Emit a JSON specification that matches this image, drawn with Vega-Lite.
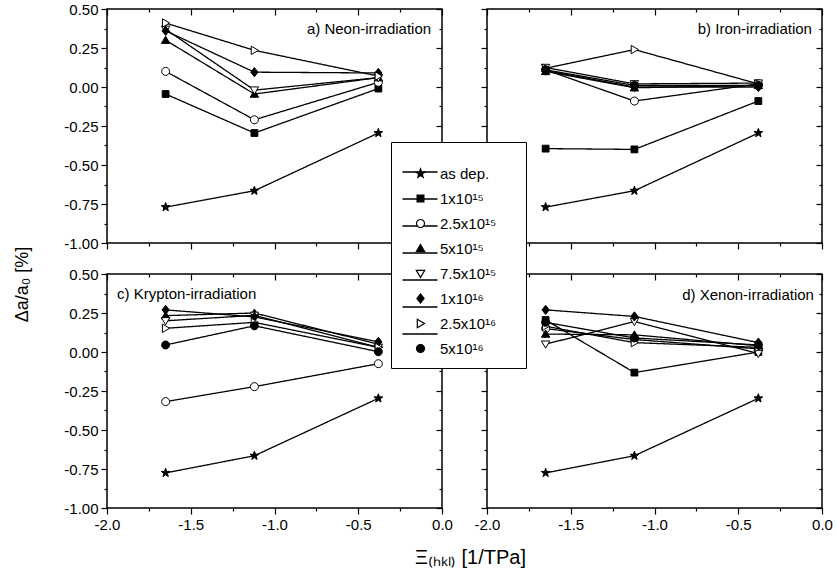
{
  "$schema": "https://vega.github.io/schema/vega-lite/v6.json",
  "padding": {"left": 14, "top": 1, "right": 5, "bottom": 5},
  "background": "white",
  "config": {
    "font": "Liberation Sans",
    "view": {"stroke": "black", "strokeWidth": 1.5},
    "axis": {"grid": false, "domain": false, "tickColor": "black", "tickWidth": 1.2, "labelColor": "black", "labelFontSize": 15, "labelFont": "Liberation Sans", "labelPadding": 3, "labelFlush": false, "labelOverlap": false},
    "legend": {"orient": "none", "labelFontSize": 15, "labelFont": "Liberation Sans", "labelColor": "black", "rowPadding": 9, "cornerRadius": 0, "padding": 22}
  },
  "data": {"values": [
    {"panel": "a", "series": "as dep.", "x": -1.65, "y": -0.77},
    {"panel": "a", "series": "as dep.", "x": -1.12, "y": -0.665},
    {"panel": "a", "series": "as dep.", "x": -0.38, "y": -0.295},
    {"panel": "a", "series": "1x10¹⁵", "x": -1.65, "y": -0.045},
    {"panel": "a", "series": "1x10¹⁵", "x": -1.12, "y": -0.295},
    {"panel": "a", "series": "1x10¹⁵", "x": -0.38, "y": -0.01},
    {"panel": "a", "series": "2.5x10¹⁵", "x": -1.65, "y": 0.10},
    {"panel": "a", "series": "2.5x10¹⁵", "x": -1.12, "y": -0.21},
    {"panel": "a", "series": "2.5x10¹⁵", "x": -0.38, "y": 0.03},
    {"panel": "a", "series": "5x10¹⁵", "x": -1.65, "y": 0.30},
    {"panel": "a", "series": "5x10¹⁵", "x": -1.12, "y": -0.045},
    {"panel": "a", "series": "5x10¹⁵", "x": -0.38, "y": 0.06},
    {"panel": "a", "series": "7.5x10¹⁵", "x": -1.65, "y": 0.37},
    {"panel": "a", "series": "7.5x10¹⁵", "x": -1.12, "y": -0.02},
    {"panel": "a", "series": "7.5x10¹⁵", "x": -0.38, "y": 0.06},
    {"panel": "a", "series": "1x10¹⁶", "x": -1.65, "y": 0.36},
    {"panel": "a", "series": "1x10¹⁶", "x": -1.12, "y": 0.095},
    {"panel": "a", "series": "1x10¹⁶", "x": -0.38, "y": 0.09},
    {"panel": "a", "series": "2.5x10¹⁶", "x": -1.65, "y": 0.41},
    {"panel": "a", "series": "2.5x10¹⁶", "x": -1.12, "y": 0.235},
    {"panel": "a", "series": "2.5x10¹⁶", "x": -0.38, "y": 0.07},

    {"panel": "b", "series": "as dep.", "x": -1.65, "y": -0.77},
    {"panel": "b", "series": "as dep.", "x": -1.12, "y": -0.665},
    {"panel": "b", "series": "as dep.", "x": -0.38, "y": -0.295},
    {"panel": "b", "series": "1x10¹⁵", "x": -1.65, "y": -0.395},
    {"panel": "b", "series": "1x10¹⁵", "x": -1.12, "y": -0.40},
    {"panel": "b", "series": "1x10¹⁵", "x": -0.38, "y": -0.09},
    {"panel": "b", "series": "2.5x10¹⁵", "x": -1.65, "y": 0.11},
    {"panel": "b", "series": "2.5x10¹⁵", "x": -1.12, "y": -0.09},
    {"panel": "b", "series": "2.5x10¹⁵", "x": -0.38, "y": 0.02},
    {"panel": "b", "series": "5x10¹⁵", "x": -1.65, "y": 0.10},
    {"panel": "b", "series": "5x10¹⁵", "x": -1.12, "y": -0.005},
    {"panel": "b", "series": "5x10¹⁵", "x": -0.38, "y": 0.01},
    {"panel": "b", "series": "7.5x10¹⁵", "x": -1.65, "y": 0.125},
    {"panel": "b", "series": "7.5x10¹⁵", "x": -1.12, "y": 0.02},
    {"panel": "b", "series": "7.5x10¹⁵", "x": -0.38, "y": 0.025},
    {"panel": "b", "series": "1x10¹⁶", "x": -1.65, "y": 0.105},
    {"panel": "b", "series": "1x10¹⁶", "x": -1.12, "y": 0.0},
    {"panel": "b", "series": "1x10¹⁶", "x": -0.38, "y": 0.0},
    {"panel": "b", "series": "2.5x10¹⁶", "x": -1.65, "y": 0.12},
    {"panel": "b", "series": "2.5x10¹⁶", "x": -1.12, "y": 0.24},
    {"panel": "b", "series": "2.5x10¹⁶", "x": -0.38, "y": 0.02},
    {"panel": "b", "series": "5x10¹⁶", "x": -1.65, "y": 0.11},
    {"panel": "b", "series": "5x10¹⁶", "x": -1.12, "y": 0.01},
    {"panel": "b", "series": "5x10¹⁶", "x": -0.38, "y": 0.01},

    {"panel": "c", "series": "as dep.", "x": -1.65, "y": -0.775},
    {"panel": "c", "series": "as dep.", "x": -1.12, "y": -0.665},
    {"panel": "c", "series": "as dep.", "x": -0.38, "y": -0.297},
    {"panel": "c", "series": "2.5x10¹⁵", "x": -1.65, "y": -0.318},
    {"panel": "c", "series": "2.5x10¹⁵", "x": -1.12, "y": -0.222},
    {"panel": "c", "series": "2.5x10¹⁵", "x": -0.38, "y": -0.075},
    {"panel": "c", "series": "5x10¹⁵", "x": -1.65, "y": 0.233},
    {"panel": "c", "series": "5x10¹⁵", "x": -1.12, "y": 0.25},
    {"panel": "c", "series": "5x10¹⁵", "x": -0.38, "y": 0.05},
    {"panel": "c", "series": "7.5x10¹⁵", "x": -1.65, "y": 0.20},
    {"panel": "c", "series": "7.5x10¹⁵", "x": -1.12, "y": 0.235},
    {"panel": "c", "series": "7.5x10¹⁵", "x": -0.38, "y": 0.03},
    {"panel": "c", "series": "1x10¹⁶", "x": -1.65, "y": 0.27},
    {"panel": "c", "series": "1x10¹⁶", "x": -1.12, "y": 0.225},
    {"panel": "c", "series": "1x10¹⁶", "x": -0.38, "y": 0.065},
    {"panel": "c", "series": "2.5x10¹⁶", "x": -1.65, "y": 0.152},
    {"panel": "c", "series": "2.5x10¹⁶", "x": -1.12, "y": 0.19},
    {"panel": "c", "series": "2.5x10¹⁶", "x": -0.38, "y": 0.03},
    {"panel": "c", "series": "5x10¹⁶", "x": -1.65, "y": 0.045},
    {"panel": "c", "series": "5x10¹⁶", "x": -1.12, "y": 0.168},
    {"panel": "c", "series": "5x10¹⁶", "x": -0.38, "y": 0.002},

    {"panel": "d", "series": "as dep.", "x": -1.65, "y": -0.775},
    {"panel": "d", "series": "as dep.", "x": -1.12, "y": -0.665},
    {"panel": "d", "series": "as dep.", "x": -0.38, "y": -0.297},
    {"panel": "d", "series": "1x10¹⁵", "x": -1.65, "y": 0.205},
    {"panel": "d", "series": "1x10¹⁵", "x": -1.12, "y": -0.132},
    {"panel": "d", "series": "1x10¹⁵", "x": -0.38, "y": 0.0},
    {"panel": "d", "series": "2.5x10¹⁵", "x": -1.65, "y": 0.15},
    {"panel": "d", "series": "2.5x10¹⁵", "x": -1.12, "y": 0.08},
    {"panel": "d", "series": "2.5x10¹⁵", "x": -0.38, "y": 0.02},
    {"panel": "d", "series": "5x10¹⁵", "x": -1.65, "y": 0.115},
    {"panel": "d", "series": "5x10¹⁵", "x": -1.12, "y": 0.11},
    {"panel": "d", "series": "5x10¹⁵", "x": -0.38, "y": 0.04},
    {"panel": "d", "series": "7.5x10¹⁵", "x": -1.65, "y": 0.05},
    {"panel": "d", "series": "7.5x10¹⁵", "x": -1.12, "y": 0.195},
    {"panel": "d", "series": "7.5x10¹⁵", "x": -0.38, "y": -0.01},
    {"panel": "d", "series": "1x10¹⁶", "x": -1.65, "y": 0.27},
    {"panel": "d", "series": "1x10¹⁶", "x": -1.12, "y": 0.228},
    {"panel": "d", "series": "1x10¹⁶", "x": -0.38, "y": 0.06},
    {"panel": "d", "series": "2.5x10¹⁶", "x": -1.65, "y": 0.165},
    {"panel": "d", "series": "2.5x10¹⁶", "x": -1.12, "y": 0.06},
    {"panel": "d", "series": "2.5x10¹⁶", "x": -0.38, "y": 0.03},
    {"panel": "d", "series": "5x10¹⁶", "x": -1.65, "y": 0.19},
    {"panel": "d", "series": "5x10¹⁶", "x": -1.12, "y": 0.09},
    {"panel": "d", "series": "5x10¹⁶", "x": -0.38, "y": 0.045}
  ]},
  "title": {"text": "Δa/a₀ [%]", "orient": "left", "anchor": "middle", "fontSize": 18, "font": "Liberation Sans", "fontWeight": "normal", "offset": 31, "color": "black"},
  "bounds": "flush",
  "columns": 2,
  "spacing": {"row": 31, "column": 45},
  "concat": [
    {
      "width": 335, "height": 234,
      "layer": [
        {"transform": [{"filter": "datum.panel == 'a'"}],
         "mark": {"type": "line", "color": "black", "strokeWidth": 1.3},
         "encoding": {
           "x": {"field": "x", "type": "quantitative", "scale": {"domain": [-2, 0], "nice": false, "zero": false}, "axis": {"orient": "bottom", "values": [-2, -1.75, -1.5, -1.25, -1, -0.75, -0.5, -0.25, 0], "labels": false, "tickSize": {"condition": {"test": "abs(datum.value*2-round(datum.value*2))<0.01", "value": 6}, "value": 3}, "title": null}},
           "y": {"field": "y", "type": "quantitative", "scale": {"domain": [-1, 0.5], "nice": false, "zero": false}, "axis": {"orient": "left", "values": [-1, -0.875, -0.75, -0.625, -0.5, -0.375, -0.25, -0.125, 0, 0.125, 0.25, 0.375, 0.5], "labelExpr": "abs(datum.value*4-round(datum.value*4))<0.01 ? replace(format(datum.value,'.2f'),'\u2212','-') : ''", "tickSize": {"condition": {"test": "abs(datum.value*4-round(datum.value*4))<0.01", "value": 6}, "value": 3}, "title": null}},
           "strokeDash": {"field": "series", "type": "nominal", "scale": {"domain": ["5x10¹⁶", "2.5x10¹⁶", "1x10¹⁶", "7.5x10¹⁵", "5x10¹⁵", "2.5x10¹⁵", "1x10¹⁵", "as dep."], "range": [[1, 0], [1, 0], [1, 0], [1, 0], [1, 0], [1, 0], [1, 0], [1, 0]]}, "legend": {"title": " ", "titleOrient": "bottom", "titleFontSize": 12, "titlePadding": 3, "values": ["5x10¹⁶", "2.5x10¹⁶", "1x10¹⁶", "7.5x10¹⁵", "5x10¹⁵", "2.5x10¹⁵", "1x10¹⁵"], "labelExpr": "' '", "legendX": 284, "legendY": 133, "padding": 11.5, "symbolType": "stroke", "symbolSize": 1225, "symbolStrokeWidth": 1.3, "symbolStrokeColor": "black", "symbolOffset": -1, "labelOffset": 76, "rowPadding": -1.7, "labelColor": "transparent", "strokeColor": "black", "fillColor": "white", "zindex": 1}}
         }},
        {"transform": [{"filter": "datum.panel == 'a'"}],
         "mark": {"type": "point", "filled": true, "stroke": "black", "strokeWidth": 1, "opacity": 1, "size": 64},
         "encoding": {
           "x": {"field": "x", "type": "quantitative", "axis": {"orient": "top", "values": [-2, -1.75, -1.5, -1.25, -1, -0.75, -0.5, -0.25, 0], "labels": false, "tickSize": {"condition": {"test": "abs(datum.value*2-round(datum.value*2))<0.01", "value": -6}, "value": -3}, "title": null}},
           "y": {"field": "y", "type": "quantitative", "axis": {"orient": "right", "values": [-1, -0.875, -0.75, -0.625, -0.5, -0.375, -0.25, -0.125, 0, 0.125, 0.25, 0.375, 0.5], "labels": false, "tickSize": {"condition": {"test": "abs(datum.value*4-round(datum.value*4))<0.01", "value": -6}, "value": -3}, "title": null}},
           "shape": {"field": "series", "type": "nominal", "scale": {"domain": ["as dep.", "1x10¹⁵", "2.5x10¹⁵", "5x10¹⁵", "7.5x10¹⁵", "1x10¹⁶", "2.5x10¹⁶", "5x10¹⁶"], "range": ["M0,-1.15L0.276,-0.38L1.094,-0.355L0.447,0.145L0.676,0.93L0,0.47L-0.676,0.93L-0.447,0.145L-1.094,-0.355L-0.276,-0.38Z", "M-0.85,-0.85H0.85V0.85H-0.85Z", "M1,0A1,1,0,1,1,-1,0A1,1,0,1,1,1,0Z", "M0,-1L1.05,0.8H-1.05Z", "M0,1L1.05,-0.8H-1.05Z", "M0,-1.15L0.9,0L0,1.15L-0.9,0Z", "M1,0L-0.8,-1.05V1.05Z", "M1,0A1,1,0,1,1,-1,0A1,1,0,1,1,1,0Z"]}, "legend": {"title": null, "legendX": 284, "legendY": 135, "symbolSize": 64, "symbolStrokeWidth": 1.2, "symbolOffset": 0, "labelOffset": 12, "zindex": 2}},
           "fill": {"field": "series", "type": "nominal", "scale": {"domain": ["as dep.", "1x10¹⁵", "2.5x10¹⁵", "5x10¹⁵", "7.5x10¹⁵", "1x10¹⁶", "2.5x10¹⁶", "5x10¹⁶"], "range": ["black", "black", "white", "black", "white", "black", "white", "black"]}, "legend": {"title": null, "legendX": 284, "legendY": 135, "symbolSize": 64, "symbolStrokeWidth": 1.2, "symbolOffset": 0, "labelOffset": 12, "zindex": 2}}
         }},
        {"data": {"values": [{"label": "a) Neon-irradiation"}]},
         "mark": {"type": "text", "align": "right", "baseline": "middle", "fontSize": 15, "font": "Liberation Sans", "color": "black"},
         "encoding": {
           "x": {"datum": -0.065, "type": "quantitative", "axis": null},
           "y": {"datum": 0.37, "type": "quantitative", "axis": null},
           "text": {"field": "label"}
         }}
      ],
      "resolve": {"axis": {"x": "independent", "y": "independent"}}
    },
    {
      "width": 335, "height": 234,
      "layer": [
        {"transform": [{"filter": "datum.panel == 'b'"}],
         "mark": {"type": "line", "color": "black", "strokeWidth": 1.3},
         "encoding": {
           "x": {"field": "x", "type": "quantitative", "scale": {"domain": [-2, 0], "nice": false, "zero": false}, "axis": {"orient": "bottom", "values": [-2, -1.75, -1.5, -1.25, -1, -0.75, -0.5, -0.25, 0], "labels": false, "tickSize": {"condition": {"test": "abs(datum.value*2-round(datum.value*2))<0.01", "value": 6}, "value": 3}, "title": null}},
           "y": {"field": "y", "type": "quantitative", "scale": {"domain": [-1, 0.5], "nice": false, "zero": false}, "axis": {"orient": "left", "values": [-1, -0.875, -0.75, -0.625, -0.5, -0.375, -0.25, -0.125, 0, 0.125, 0.25, 0.375, 0.5], "labels": false, "tickSize": {"condition": {"test": "abs(datum.value*4-round(datum.value*4))<0.01", "value": 6}, "value": 3}, "title": null}},
           "strokeDash": {"field": "series", "type": "nominal", "scale": {"domain": ["5x10¹⁶", "2.5x10¹⁶", "1x10¹⁶", "7.5x10¹⁵", "5x10¹⁵", "2.5x10¹⁵", "1x10¹⁵", "as dep."], "range": [[1, 0], [1, 0], [1, 0], [1, 0], [1, 0], [1, 0], [1, 0], [1, 0]]}, "legend": {"title": " ", "titleOrient": "bottom", "titleFontSize": 12, "titlePadding": 3, "values": ["5x10¹⁶", "2.5x10¹⁶", "1x10¹⁶", "7.5x10¹⁵", "5x10¹⁵", "2.5x10¹⁵", "1x10¹⁵"], "labelExpr": "' '", "legendX": 284, "legendY": 133, "padding": 11.5, "symbolType": "stroke", "symbolSize": 1225, "symbolStrokeWidth": 1.3, "symbolStrokeColor": "black", "symbolOffset": -1, "labelOffset": 76, "rowPadding": -1.7, "labelColor": "transparent", "strokeColor": "black", "fillColor": "white", "zindex": 1}}
         }},
        {"transform": [{"filter": "datum.panel == 'b'"}],
         "mark": {"type": "point", "filled": true, "stroke": "black", "strokeWidth": 1, "opacity": 1, "size": 64},
         "encoding": {
           "x": {"field": "x", "type": "quantitative", "axis": {"orient": "top", "values": [-2, -1.75, -1.5, -1.25, -1, -0.75, -0.5, -0.25, 0], "labels": false, "tickSize": {"condition": {"test": "abs(datum.value*2-round(datum.value*2))<0.01", "value": -6}, "value": -3}, "title": null}},
           "y": {"field": "y", "type": "quantitative", "axis": {"orient": "right", "values": [-1, -0.875, -0.75, -0.625, -0.5, -0.375, -0.25, -0.125, 0, 0.125, 0.25, 0.375, 0.5], "labels": false, "tickSize": {"condition": {"test": "abs(datum.value*4-round(datum.value*4))<0.01", "value": -6}, "value": -3}, "title": null}},
           "shape": {"field": "series", "type": "nominal", "scale": {"domain": ["as dep.", "1x10¹⁵", "2.5x10¹⁵", "5x10¹⁵", "7.5x10¹⁵", "1x10¹⁶", "2.5x10¹⁶", "5x10¹⁶"], "range": ["M0,-1.15L0.276,-0.38L1.094,-0.355L0.447,0.145L0.676,0.93L0,0.47L-0.676,0.93L-0.447,0.145L-1.094,-0.355L-0.276,-0.38Z", "M-0.85,-0.85H0.85V0.85H-0.85Z", "M1,0A1,1,0,1,1,-1,0A1,1,0,1,1,1,0Z", "M0,-1L1.05,0.8H-1.05Z", "M0,1L1.05,-0.8H-1.05Z", "M0,-1.15L0.9,0L0,1.15L-0.9,0Z", "M1,0L-0.8,-1.05V1.05Z", "M1,0A1,1,0,1,1,-1,0A1,1,0,1,1,1,0Z"]}, "legend": {"title": null, "legendX": 284, "legendY": 135, "symbolSize": 64, "symbolStrokeWidth": 1.2, "symbolOffset": 0, "labelOffset": 12, "zindex": 2}},
           "fill": {"field": "series", "type": "nominal", "scale": {"domain": ["as dep.", "1x10¹⁵", "2.5x10¹⁵", "5x10¹⁵", "7.5x10¹⁵", "1x10¹⁶", "2.5x10¹⁶", "5x10¹⁶"], "range": ["black", "black", "white", "black", "white", "black", "white", "black"]}, "legend": {"title": null, "legendX": 284, "legendY": 135, "symbolSize": 64, "symbolStrokeWidth": 1.2, "symbolOffset": 0, "labelOffset": 12, "zindex": 2}}
         }},
        {"data": {"values": [{"label": "b) Iron-irradiation"}]},
         "mark": {"type": "text", "align": "right", "baseline": "middle", "fontSize": 15, "font": "Liberation Sans", "color": "black"},
         "encoding": {
           "x": {"datum": -0.06, "type": "quantitative", "axis": null},
           "y": {"datum": 0.37, "type": "quantitative", "axis": null},
           "text": {"field": "label"}
         }}
      ],
      "resolve": {"axis": {"x": "independent", "y": "independent"}}
    },
    {
      "width": 335, "height": 234,
      "layer": [
        {"transform": [{"filter": "datum.panel == 'c'"}],
         "mark": {"type": "line", "color": "black", "strokeWidth": 1.3},
         "encoding": {
           "x": {"field": "x", "type": "quantitative", "scale": {"domain": [-2, 0], "nice": false, "zero": false}, "axis": {"orient": "bottom", "values": [-2, -1.75, -1.5, -1.25, -1, -0.75, -0.5, -0.25, 0], "labelExpr": "abs(datum.value*2-round(datum.value*2))<0.01 ? replace(format(datum.value,'.1f'),'\u2212','-') : ''", "tickSize": {"condition": {"test": "abs(datum.value*2-round(datum.value*2))<0.01", "value": 6}, "value": 3}, "title": "Ξ₍ₕₖₗ₎ [1/TPa]", "titleX": 363, "titleY": 39, "titleBaseline": "top", "titleAlign": "center", "titleFontSize": 20, "titleFontWeight": "normal", "titleColor": "black", "titleFont": "Liberation Sans"}},
           "y": {"field": "y", "type": "quantitative", "scale": {"domain": [-1, 0.5], "nice": false, "zero": false}, "axis": {"orient": "left", "values": [-1, -0.875, -0.75, -0.625, -0.5, -0.375, -0.25, -0.125, 0, 0.125, 0.25, 0.375, 0.5], "labelExpr": "abs(datum.value*4-round(datum.value*4))<0.01 ? replace(format(datum.value,'.2f'),'\u2212','-') : ''", "tickSize": {"condition": {"test": "abs(datum.value*4-round(datum.value*4))<0.01", "value": 6}, "value": 3}, "title": null}},
           "strokeDash": {"field": "series", "type": "nominal", "scale": {"domain": ["5x10¹⁶", "2.5x10¹⁶", "1x10¹⁶", "7.5x10¹⁵", "5x10¹⁵", "2.5x10¹⁵", "1x10¹⁵", "as dep."], "range": [[1, 0], [1, 0], [1, 0], [1, 0], [1, 0], [1, 0], [1, 0], [1, 0]]}, "legend": {"title": " ", "titleOrient": "bottom", "titleFontSize": 12, "titlePadding": 3, "values": ["5x10¹⁶", "2.5x10¹⁶", "1x10¹⁶", "7.5x10¹⁵", "5x10¹⁵", "2.5x10¹⁵", "1x10¹⁵"], "labelExpr": "' '", "legendX": 284, "legendY": 133, "padding": 11.5, "symbolType": "stroke", "symbolSize": 1225, "symbolStrokeWidth": 1.3, "symbolStrokeColor": "black", "symbolOffset": -1, "labelOffset": 76, "rowPadding": -1.7, "labelColor": "transparent", "strokeColor": "black", "fillColor": "white", "zindex": 1}}
         }},
        {"transform": [{"filter": "datum.panel == 'c'"}],
         "mark": {"type": "point", "filled": true, "stroke": "black", "strokeWidth": 1, "opacity": 1, "size": 64},
         "encoding": {
           "x": {"field": "x", "type": "quantitative", "axis": {"orient": "top", "values": [-2, -1.75, -1.5, -1.25, -1, -0.75, -0.5, -0.25, 0], "labels": false, "tickSize": {"condition": {"test": "abs(datum.value*2-round(datum.value*2))<0.01", "value": -6}, "value": -3}, "title": null}},
           "y": {"field": "y", "type": "quantitative", "axis": {"orient": "right", "values": [-1, -0.875, -0.75, -0.625, -0.5, -0.375, -0.25, -0.125, 0, 0.125, 0.25, 0.375, 0.5], "labels": false, "tickSize": {"condition": {"test": "abs(datum.value*4-round(datum.value*4))<0.01", "value": -6}, "value": -3}, "title": null}},
           "shape": {"field": "series", "type": "nominal", "scale": {"domain": ["as dep.", "1x10¹⁵", "2.5x10¹⁵", "5x10¹⁵", "7.5x10¹⁵", "1x10¹⁶", "2.5x10¹⁶", "5x10¹⁶"], "range": ["M0,-1.15L0.276,-0.38L1.094,-0.355L0.447,0.145L0.676,0.93L0,0.47L-0.676,0.93L-0.447,0.145L-1.094,-0.355L-0.276,-0.38Z", "M-0.85,-0.85H0.85V0.85H-0.85Z", "M1,0A1,1,0,1,1,-1,0A1,1,0,1,1,1,0Z", "M0,-1L1.05,0.8H-1.05Z", "M0,1L1.05,-0.8H-1.05Z", "M0,-1.15L0.9,0L0,1.15L-0.9,0Z", "M1,0L-0.8,-1.05V1.05Z", "M1,0A1,1,0,1,1,-1,0A1,1,0,1,1,1,0Z"]}, "legend": {"title": null, "legendX": 284, "legendY": 135, "symbolSize": 64, "symbolStrokeWidth": 1.2, "symbolOffset": 0, "labelOffset": 12, "zindex": 2}},
           "fill": {"field": "series", "type": "nominal", "scale": {"domain": ["as dep.", "1x10¹⁵", "2.5x10¹⁵", "5x10¹⁵", "7.5x10¹⁵", "1x10¹⁶", "2.5x10¹⁶", "5x10¹⁶"], "range": ["black", "black", "white", "black", "white", "black", "white", "black"]}, "legend": {"title": null, "legendX": 284, "legendY": 135, "symbolSize": 64, "symbolStrokeWidth": 1.2, "symbolOffset": 0, "labelOffset": 12, "zindex": 2}}
         }},
        {"data": {"values": [{"label": "c) Krypton-irradiation"}]},
         "mark": {"type": "text", "align": "left", "baseline": "middle", "fontSize": 15, "font": "Liberation Sans", "color": "black"},
         "encoding": {
           "x": {"datum": -1.94, "type": "quantitative", "axis": null},
           "y": {"datum": 0.375, "type": "quantitative", "axis": null},
           "text": {"field": "label"}
         }}
      ],
      "resolve": {"axis": {"x": "independent", "y": "independent"}}
    },
    {
      "width": 335, "height": 234,
      "layer": [
        {"transform": [{"filter": "datum.panel == 'd'"}],
         "mark": {"type": "line", "color": "black", "strokeWidth": 1.3},
         "encoding": {
           "x": {"field": "x", "type": "quantitative", "scale": {"domain": [-2, 0], "nice": false, "zero": false}, "axis": {"orient": "bottom", "values": [-2, -1.75, -1.5, -1.25, -1, -0.75, -0.5, -0.25, 0], "labelExpr": "abs(datum.value*2-round(datum.value*2))<0.01 ? replace(format(datum.value,'.1f'),'\u2212','-') : ''", "tickSize": {"condition": {"test": "abs(datum.value*2-round(datum.value*2))<0.01", "value": 6}, "value": 3}, "title": null}},
           "y": {"field": "y", "type": "quantitative", "scale": {"domain": [-1, 0.5], "nice": false, "zero": false}, "axis": {"orient": "left", "values": [-1, -0.875, -0.75, -0.625, -0.5, -0.375, -0.25, -0.125, 0, 0.125, 0.25, 0.375, 0.5], "labels": false, "tickSize": {"condition": {"test": "abs(datum.value*4-round(datum.value*4))<0.01", "value": 6}, "value": 3}, "title": null}},
           "strokeDash": {"field": "series", "type": "nominal", "scale": {"domain": ["5x10¹⁶", "2.5x10¹⁶", "1x10¹⁶", "7.5x10¹⁵", "5x10¹⁵", "2.5x10¹⁵", "1x10¹⁵", "as dep."], "range": [[1, 0], [1, 0], [1, 0], [1, 0], [1, 0], [1, 0], [1, 0], [1, 0]]}, "legend": {"title": " ", "titleOrient": "bottom", "titleFontSize": 12, "titlePadding": 3, "values": ["5x10¹⁶", "2.5x10¹⁶", "1x10¹⁶", "7.5x10¹⁵", "5x10¹⁵", "2.5x10¹⁵", "1x10¹⁵"], "labelExpr": "' '", "legendX": 284, "legendY": 133, "padding": 11.5, "symbolType": "stroke", "symbolSize": 1225, "symbolStrokeWidth": 1.3, "symbolStrokeColor": "black", "symbolOffset": -1, "labelOffset": 76, "rowPadding": -1.7, "labelColor": "transparent", "strokeColor": "black", "fillColor": "white", "zindex": 1}}
         }},
        {"transform": [{"filter": "datum.panel == 'd'"}],
         "mark": {"type": "point", "filled": true, "stroke": "black", "strokeWidth": 1, "opacity": 1, "size": 64},
         "encoding": {
           "x": {"field": "x", "type": "quantitative", "axis": {"orient": "top", "values": [-2, -1.75, -1.5, -1.25, -1, -0.75, -0.5, -0.25, 0], "labels": false, "tickSize": {"condition": {"test": "abs(datum.value*2-round(datum.value*2))<0.01", "value": -6}, "value": -3}, "title": null}},
           "y": {"field": "y", "type": "quantitative", "axis": {"orient": "right", "values": [-1, -0.875, -0.75, -0.625, -0.5, -0.375, -0.25, -0.125, 0, 0.125, 0.25, 0.375, 0.5], "labels": false, "tickSize": {"condition": {"test": "abs(datum.value*4-round(datum.value*4))<0.01", "value": -6}, "value": -3}, "title": null}},
           "shape": {"field": "series", "type": "nominal", "scale": {"domain": ["as dep.", "1x10¹⁵", "2.5x10¹⁵", "5x10¹⁵", "7.5x10¹⁵", "1x10¹⁶", "2.5x10¹⁶", "5x10¹⁶"], "range": ["M0,-1.15L0.276,-0.38L1.094,-0.355L0.447,0.145L0.676,0.93L0,0.47L-0.676,0.93L-0.447,0.145L-1.094,-0.355L-0.276,-0.38Z", "M-0.85,-0.85H0.85V0.85H-0.85Z", "M1,0A1,1,0,1,1,-1,0A1,1,0,1,1,1,0Z", "M0,-1L1.05,0.8H-1.05Z", "M0,1L1.05,-0.8H-1.05Z", "M0,-1.15L0.9,0L0,1.15L-0.9,0Z", "M1,0L-0.8,-1.05V1.05Z", "M1,0A1,1,0,1,1,-1,0A1,1,0,1,1,1,0Z"]}, "legend": {"title": null, "legendX": 284, "legendY": 135, "symbolSize": 64, "symbolStrokeWidth": 1.2, "symbolOffset": 0, "labelOffset": 12, "zindex": 2}},
           "fill": {"field": "series", "type": "nominal", "scale": {"domain": ["as dep.", "1x10¹⁵", "2.5x10¹⁵", "5x10¹⁵", "7.5x10¹⁵", "1x10¹⁶", "2.5x10¹⁶", "5x10¹⁶"], "range": ["black", "black", "white", "black", "white", "black", "white", "black"]}, "legend": {"title": null, "legendX": 284, "legendY": 135, "symbolSize": 64, "symbolStrokeWidth": 1.2, "symbolOffset": 0, "labelOffset": 12, "zindex": 2}}
         }},
        {"data": {"values": [{"label": "d) Xenon-irradiation"}]},
         "mark": {"type": "text", "align": "right", "baseline": "middle", "fontSize": 15, "font": "Liberation Sans", "color": "black"},
         "encoding": {
           "x": {"datum": -0.048, "type": "quantitative", "axis": null},
           "y": {"datum": 0.368, "type": "quantitative", "axis": null},
           "text": {"field": "label"}
         }}
      ],
      "resolve": {"axis": {"x": "independent", "y": "independent"}}
    }
  ]
}
